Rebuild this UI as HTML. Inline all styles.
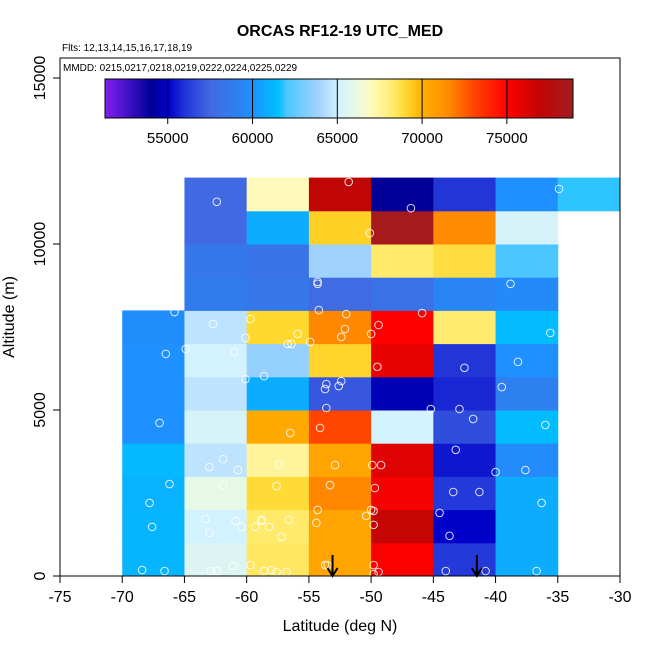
<!DOCTYPE html>
<html><head><meta charset="utf-8"><style>
body{margin:0;background:#fff;}
svg{display:block;font-family:"Liberation Sans",Arial,sans-serif;}
</style></head><body>
<svg id="chart" width="650" height="650" viewBox="0 0 650 650">
<text x="340" y="36" text-anchor="middle" font-size="16" font-weight="bold">ORCAS RF12-19 UTC_MED</text>
<text x="62" y="51" font-size="10">Flts: 12,13,14,15,16,17,18,19</text>
<g id="cells"></g>
<g id="pts"></g>
<g id="arrows"></g>
<rect x="60" y="58" width="560" height="518" fill="none" stroke="#000" stroke-width="1"/>
<text x="63" y="71" font-size="10">MMDD: 0215,0217,0218,0219,0222,0224,0225,0229</text>
<g id="cbar"></g>
<g id="axes"></g>
<text x="340" y="631" text-anchor="middle" font-size="16">Latitude (deg N)</text>
<text x="0" y="0" transform="translate(14,317) rotate(-90)" text-anchor="middle" font-size="16">Altitude (m)</text>
</svg>
<script>
const latBins=[-70,-65,-60,-55,-50,-45,-40,-35];
const altBins=[0,1000,2000,3000,4000,5000,6000,7000,8000,9000,10000,11000];
// values[row][col], row = altitude bin, null = no data
const values=[
[61100,65500,68400,70500,75100,56100,60800,null],
[61100,65000,68300,70500,76800,55000,60800,null],
[61000,66000,68900,71600,75300,56100,60800,null],
[61200,64500,67500,70500,76000,55400,59700,null],
[60000,65200,70300,73000,65000,56700,61300,null],
[60000,64500,60800,57000,54600,55700,59000,null],
[60000,65000,63600,69100,75700,56000,60000,null],
[59800,64500,69000,71600,75000,68200,61300,null],
[null,58700,58400,57600,58000,59300,59600,null],
[null,58500,58200,63800,68300,68800,62000,null],
[null,57500,60800,69200,78500,71500,65200,null],
[null,57500,67000,77000,54000,56000,60000,61800]
];
const ptLat=[-51.8,-62.4,-46.8,-34.9,-50.1,-54.3,-54.3,-38.8,-65.8,-62.7,-59.7,-60.1,-54.2,-52.0,-49.4,-45.9,-55.9,-56.7,-56.4,-54.9,-52.4,-52.1,-50.0,-35.6,-66.5,-64.9,-61.0,-49.5,-42.5,-38.2,-58.6,-60.1,-53.6,-53.7,-52.6,-52.4,-53.6,-45.2,-42.9,-39.5,-67.0,-56.5,-54.1,-41.8,-36.0,-43.2,-61.9,-63.0,-60.7,-57.4,-52.9,-49.9,-49.2,-40.0,-37.6,-66.2,-67.8,-61.9,-57.6,-53.3,-49.7,-43.4,-41.3,-36.3,-54.3,-50.0,-49.8,-50.4,-49.8,-44.5,-43.7,-67.6,-63.3,-63.0,-60.9,-60.4,-58.8,-58.8,-59.3,-58.2,-56.6,-57.2,-54.4,-68.4,-66.6,-62.9,-62.4,-61.1,-59.7,-58.6,-58.0,-57.6,-56.8,-53.7,-53.5,-49.8,-49.8,-49.4,-44.0,-40.8,-36.7];
const ptAlt=[11870,11270,11080,11660,10330,8860,8800,8800,7950,7590,7740,7170,8010,7890,7560,7920,7290,6990,6990,7050,7200,7440,7290,7320,6690,6840,6750,6300,6270,6450,6020,5930,5780,5630,5720,5870,5060,5030,5030,5690,4610,4310,4460,4730,4550,3800,3520,3280,3190,3370,3340,3340,3340,3130,3190,2770,2200,2740,2710,2740,2650,2530,2530,2200,1990,1990,1960,1810,1540,1900,1210,1480,1720,1300,1660,1480,1690,1660,1480,1480,1690,1180,1600,180,150,150,150,300,330,150,180,120,120,330,330,330,60,120,150,150,150];
const arrowLat=[-53.1,-41.5];
const xTicks=[-75,-70,-65,-60,-55,-50,-45,-40,-35,-30];
const yTicks=[0,5000,10000,15000];
const cbTicks=[55000,60000,65000,70000,75000];
const cbMin=51300, cbMax=78900;
const stopVals=[51300,54000,55000,56000,57500,59000,60000,60800,61500,62000,64000,65000,66000,67000,68300,69000,70000,71600,73000,75000,77000,78900];
const stopCols=["#8020f0","#000098","#0000c8","#2236d8","#4169e1","#2e80f0","#1e90ff","#0cadff","#00c0ff","#4cc6ff","#a8d4fe","#d2f2ff","#e6f8e6","#fffabb","#ffea6a","#ffd830","#ffb000","#ff8800","#ff4500","#ff0000","#c00505","#a01f22"];

const NS="http://www.w3.org/2000/svg";
const X=v=>60+(v+75)*560/45;
const Y=v=>576-v*498/15000;
const CB=v=>105+(v-cbMin)*(573-105)/(cbMax-cbMin);
function hex(c){return [1,3,5].map(i=>parseInt(c.substr(i,2),16));}
function color(v){
  if(v<=stopVals[0])return stopCols[0];
  for(let i=1;i<stopVals.length;i++){
    if(v<=stopVals[i]){
      const t=(v-stopVals[i-1])/(stopVals[i]-stopVals[i-1]);
      const a=hex(stopCols[i-1]),b=hex(stopCols[i]);
      return "rgb("+a.map((x,k)=>Math.round(x+(b[k]-x)*t)).join(",")+")";
    }
  }
  return stopCols[stopCols.length-1];
}
function mk(tag,attrs,parent){const e=document.createElementNS(NS,tag);for(const k in attrs)e.setAttribute(k,attrs[k]);parent.appendChild(e);return e;}

const cells=document.getElementById('cells');
values.forEach((row,r)=>row.forEach((v,c)=>{
  if(v===null)return;
  const x0=X(latBins[c]),x1=X(latBins[c]+5),y0=Y(altBins[r]+1000),y1=Y(altBins[r]);
  const e=mk('rect',{x:x0,y:y0,width:x1-x0+0.5,height:y1-y0+0.5,fill:color(v)},cells);
  
  
}));
const pts=document.getElementById('pts');
ptLat.forEach((la,i)=>{
  const e=mk('circle',{cx:X(la),cy:Y(ptAlt[i]),r:3.8,fill:'none',stroke:'#fff','stroke-opacity':0.85,'stroke-width':1},pts);
  
  
});
const arr=document.getElementById('arrows');
arrowLat.forEach(la=>{
  const g=mk('g',{},arr);
  
  
  const x=X(la);
  mk('line',{x1:x,y1:555,x2:x,y2:575,stroke:'#000','stroke-width':2},g);
  mk('path',{d:`M${x-5},568 L${x},576 L${x+5},568`,fill:'none',stroke:'#000','stroke-width':2},g);
});
const cb=document.getElementById('cbar');
for(let px=105;px<573;px++){
  const v=cbMin+(px-105)*(cbMax-cbMin)/(573-105);
  mk('rect',{x:px,y:79,width:1.2,height:39,fill:color(v)},cb);
}
mk('rect',{x:105,y:79,width:468,height:39,fill:'none',stroke:'#000','stroke-width':1},cb);
cbTicks.forEach(t=>{
  const x=CB(t);
  mk('line',{x1:x,y1:79,x2:x,y2:124,stroke:'#000','stroke-width':1},cb);
  const e=mk('text',{x:x,y:143,'text-anchor':'middle','font-size':15},cb);
  e.textContent=t;
  
  
});
const ax=document.getElementById('axes');
xTicks.forEach(t=>{
  const x=X(t);
  mk('line',{x1:x,y1:576,x2:x,y2:583,stroke:'#000'},ax);
  const e=mk('text',{x:x,y:602,'text-anchor':'middle','font-size':16},ax);
  e.textContent=t;
  
  
});
yTicks.forEach(t=>{
  const y=Y(t);
  mk('line',{x1:53,y1:y,x2:60,y2:y,stroke:'#000'},ax);
  const e=mk('text',{x:0,y:0,transform:`translate(45,${y}) rotate(-90)`,'text-anchor':'middle','font-size':16},ax);
  e.textContent=t;
  
  
});
</script>
</body></html>
